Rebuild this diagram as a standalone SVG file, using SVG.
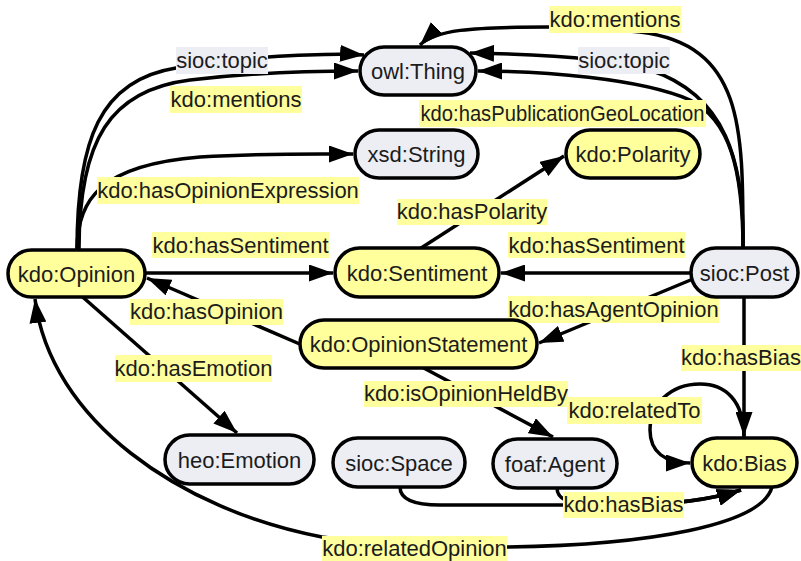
<svg xmlns="http://www.w3.org/2000/svg" width="801" height="561" viewBox="0 0 801 561">
<defs>
<style>
.e{fill:none;stroke:#000;stroke-width:3.5;marker-end:url(#a)}
.en{fill:none;stroke:#000;stroke-width:3.5}
.n rect{stroke:#000;stroke-width:3.5}
.k rect{fill:#ffff9c}
.g rect{fill:#eceef4}
text{font-family:"Liberation Sans",Arial,sans-serif;font-size:22px;fill:#1c1c1c;text-anchor:middle}
.ly{fill:#ffff9e}
.lg{fill:#eceef4}
</style>
<marker id="a" markerUnits="userSpaceOnUse" markerWidth="24" markerHeight="17" refX="24" refY="8.5" orient="auto" viewBox="0 0 24 17"><path d="M0,0 L24,8.5 L0,17 z" fill="#000"/></marker>
</defs>
<rect width="801" height="561" fill="#fff"/>
<g id="connectors">
<path class="e" d="M77,250 C77,140 100,80 176,68 L268,57 C300,55 335,53 364,55"/>
<path class="e" d="M79,250 C79,140 110,90 190,80 C250,73 310,71 358,71"/>
<path class="e" d="M77,250 C77,200 100,165 200,157 C270,153 320,154 353,154"/>
<path class="e" d="M145,273 L333,273"/>
<path class="e" d="M302,345 L147,278"/>
<path class="e" d="M77,292 L237,433"/>
<path class="e" d="M418,250 L564,156"/>
<path class="e" d="M691,273 L501,273"/>
<path class="e" d="M693,279 L539,343"/>
<path class="e" d="M420,366 L553,437"/>
<path class="e" d="M744,297 L744,436"/>
<path class="e" d="M744,438 C744,400 725,384 700,384 C670,384 650,405 650,430 C650,452 665,463 690,463"/>
<path class="e" d="M400,487 C400,500 415,505 440,505 L620,505 C670,505 710,500 741,490"/>
<path class="e" d="M557,488 C557,500 570,505 595,505 L620,505 C670,505 710,500 741,490"/>
<path class="e" d="M772,487 C762,525 650,545 507,547 C440,548 380,545 322,537 C180,510 50,420 35,299"/>
<path class="e" d="M743,250 C743,130 745,45 640,32 C600,28 580,27 548,27 C470,27 435,30 420,45"/>
<path class="e" d="M743,250 C745,160 725,95 650,70 C610,58 540,54 470,53"/>
<path class="e" d="M743,250 C743,170 730,120 690,100 C640,78 540,71 478,71"/>
<g id="labels">
<rect class="lg" x="176" y="47" width="92" height="27"/><text x="222" y="67.5">sioc:topic</text>
<rect class="ly" x="170" y="86" width="132" height="27"/><text x="236" y="106.5">kdo:mentions</text>
<rect class="ly" x="97" y="177" width="262" height="27"/><text x="228" y="197.5">kdo:hasOpinionExpression</text>
<rect class="ly" x="152" y="232" width="177" height="26"/><text x="240.5" y="252.5">kdo:hasSentiment</text>
<rect class="ly" x="130" y="299" width="153" height="26"/><text x="206.5" y="319">kdo:hasOpinion</text>
<rect class="ly" x="115" y="355" width="157" height="27"/><text x="193.5" y="375.5">kdo:hasEmotion</text>
<rect class="ly" x="397" y="199" width="150" height="26"/><text x="472" y="219">kdo:hasPolarity</text>
<rect class="ly" x="508" y="232" width="177" height="26"/><text x="596.5" y="252.5">kdo:hasSentiment</text>
<rect class="ly" x="508" y="296" width="211" height="27"/><text x="613.5" y="316.5">kdo:hasAgentOpinion</text>
<rect class="ly" x="364" y="381" width="204" height="26"/><text x="466" y="401">kdo:isOpinionHeldBy</text>
<rect class="ly" x="681" y="345" width="120" height="26"/><text x="741" y="365">kdo:hasBias</text>
<rect class="ly" x="567" y="397" width="135" height="27"/><text x="634.5" y="417.5">kdo:relatedTo</text>
<rect class="ly" x="563" y="492" width="121" height="26"/><text x="623.5" y="512">kdo:hasBias</text>
<rect class="ly" x="322" y="536" width="185" height="26"/><text x="414.5" y="556">kdo:relatedOpinion</text>
<rect class="ly" x="549" y="6" width="132" height="27"/><text x="615" y="26.5">kdo:mentions</text>
<rect class="lg" x="578" y="47" width="92" height="27"/><text x="624" y="67.5">sioc:topic</text>
<rect class="ly" x="419" y="100" width="287" height="27"/><text x="562.5" y="120.5" textLength="284" lengthAdjust="spacingAndGlyphs">kdo:hasPublicationGeoLocation</text>
</g>
</g>
<g id="owl_Thing" class="n g"><rect x="360" y="47" width="116" height="48" rx="24"/><text x="418" y="79">owl:Thing</text></g>
<g id="xsd_String" class="n g"><rect x="355" y="130" width="123" height="48" rx="24"/><text x="416.5" y="162">xsd:String</text></g>
<g id="kdo_Polarity" class="n k"><rect x="566" y="130" width="134" height="48" rx="24"/><text x="633" y="162">kdo:Polarity</text></g>
<g id="kdo_Opinion" class="n k"><rect x="8" y="250" width="137" height="47" rx="23.5"/><text x="76.5" y="281.5">kdo:Opinion</text></g>
<g id="kdo_Sentiment" class="n k"><rect x="335" y="248" width="164" height="49" rx="24.5"/><text x="417" y="280.5">kdo:Sentiment</text></g>
<g id="sioc_Post" class="n g"><rect x="691" y="248" width="107" height="49" rx="24.5"/><text x="744.5" y="280.5">sioc:Post</text></g>
<g id="kdo_OpinionStatement" class="n k"><rect x="300" y="320" width="237" height="48" rx="24"/><text x="418.5" y="352">kdo:OpinionStatement</text></g>
<g id="heo_Emotion" class="n g"><rect x="165" y="435" width="149" height="49" rx="24.5"/><text x="239.5" y="467.5">heo:Emotion</text></g>
<g id="sioc_Space" class="n g"><rect x="333" y="438" width="132" height="49" rx="24.5"/><text x="399" y="470.5">sioc:Space</text></g>
<g id="foaf_Agent" class="n g"><rect x="493" y="439" width="124" height="49" rx="24.5"/><text x="555" y="471.5">foaf:Agent</text></g>
<g id="kdo_Bias" class="n k"><rect x="692" y="438" width="105" height="49" rx="24.5"/><text x="744.5" y="470.5">kdo:Bias</text></g>
</svg>
